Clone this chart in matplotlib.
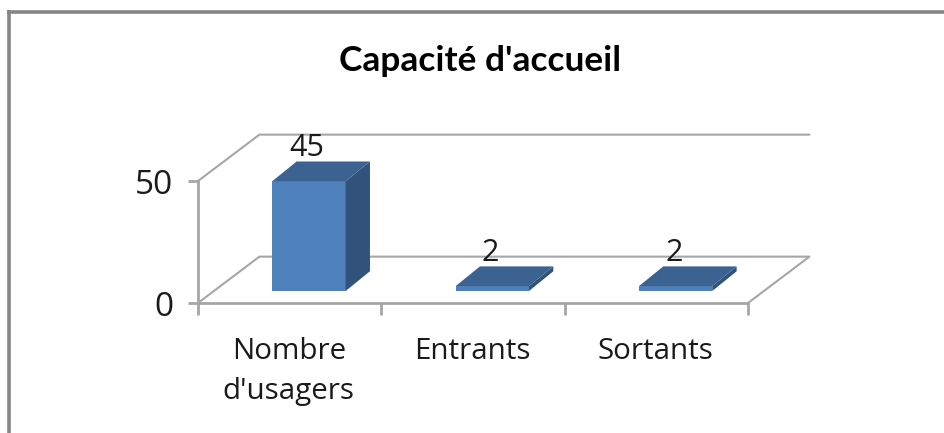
import matplotlib
matplotlib.use("Agg")
import matplotlib.pyplot as plt
from matplotlib.patches import Polygon

categories = ["Nombre\nd'usagers", "Entrants", "Sortants"]
values = [45, 2, 2]
y_ticks = [0, 50]
title = "Capacité d'accueil"

W, H = 944, 433
GREY = "#a6a6a6"
FRONT = "#4f81bd"
TOP = "#3b6290"
SIDE = "#31527b"

# fake 3d depth, in data units
WALL_DX = 0.335
WALL_DY = 19.0
BAR_LEFT = 0.405
BAR_WIDTH = 0.40
BAR_LIFT = 4.9
BAR_DX = 0.133
BAR_DY = 8.1

fig = plt.figure(figsize=(W / 100, H / 100), dpi=100)
ax = fig.add_axes([198 / W, 1 - 303 / H, 550 / W, 122 / H])
ax.set_xlim(0, len(categories))
ax.set_ylim(y_ticks[0], y_ticks[-1])
ax.patch.set_visible(False)
for s in ["top", "right"]:
    ax.spines[s].set_visible(False)
for s in ["left", "bottom"]:
    ax.spines[s].set_color(GREY)
    ax.spines[s].set_linewidth(2)

ax.set_yticks(y_ticks)
ax.set_xticks(range(len(categories) + 1))
ax.set_xticklabels([])
ax.tick_params(axis="x", color=GREY, width=2, length=8.5)
ax.tick_params(axis="y", color=GREY, width=2, length=7)
ax.tick_params(axis="y", labelsize=24, labelcolor="#1a1a1a", pad=11)
for lab in ax.get_yticklabels():
    lab.set_family("Open Sans")

# walls and floor
n = len(categories)
wall = dict(color=GREY, lw=1.5, clip_on=False, zorder=1, solid_capstyle="round")
ax.plot([0, WALL_DX, n + WALL_DX], [50, 50 + WALL_DY, 50 + WALL_DY], **wall)
ax.plot([0, WALL_DX, n + WALL_DX, n], [0, WALL_DY, WALL_DY, 0], **wall)

# bars
for i, (cat, v) in enumerate(zip(categories, values)):
    x0 = i + BAR_LEFT
    x1 = x0 + BAR_WIDTH
    y0 = BAR_LIFT
    y1 = y0 + v
    poly = dict(clip_on=False, zorder=3, lw=0)
    ax.add_patch(Polygon([(x0, y0), (x1, y0), (x1, y1), (x0, y1)], fc=FRONT, **poly))
    ax.add_patch(Polygon([(x1, y0), (x1 + BAR_DX, y0 + BAR_DY), (x1 + BAR_DX, y1 + BAR_DY), (x1, y1)],
                         fc=SIDE, **poly))
    # drawn after the side so the flat bars show no dark edge
    ax.add_patch(Polygon([(x0, y1), (x1, y1), (x1 + BAR_DX, y1 + BAR_DY), (x0 + BAR_DX, y1 + BAR_DY)],
                         fc=TOP, **poly))
    ax.text(x0 + BAR_WIDTH / 2 - 0.01, y1 + BAR_DY - 0.5, str(v), ha="center", va="bottom", fontsize=22,
            family="Open Sans", color="#1a1a1a", clip_on=False, zorder=4)
    ax.text(i + 0.495, -14, cat, ha="center", va="top", fontsize=21.3, family="Open Sans",
            color="#1a1a1a", linespacing=1.5, clip_on=False)

fig.text(480 / W, 1 - 61 / H, title, ha="center", va="center", fontsize=25.4, family="Lato",
         fontweight="bold", color="black")

# chart frame
frame = dict(color="#868686", lw=2.6, solid_capstyle="butt")
fig.add_artist(plt.Line2D([7 / W, 1], [1 - 11.5 / H, 1 - 11.5 / H], **frame))
fig.add_artist(plt.Line2D([8.5 / W, 8.5 / W], [0, 1 - 10 / H], **frame))

fig.savefig("out.png", dpi=100)
